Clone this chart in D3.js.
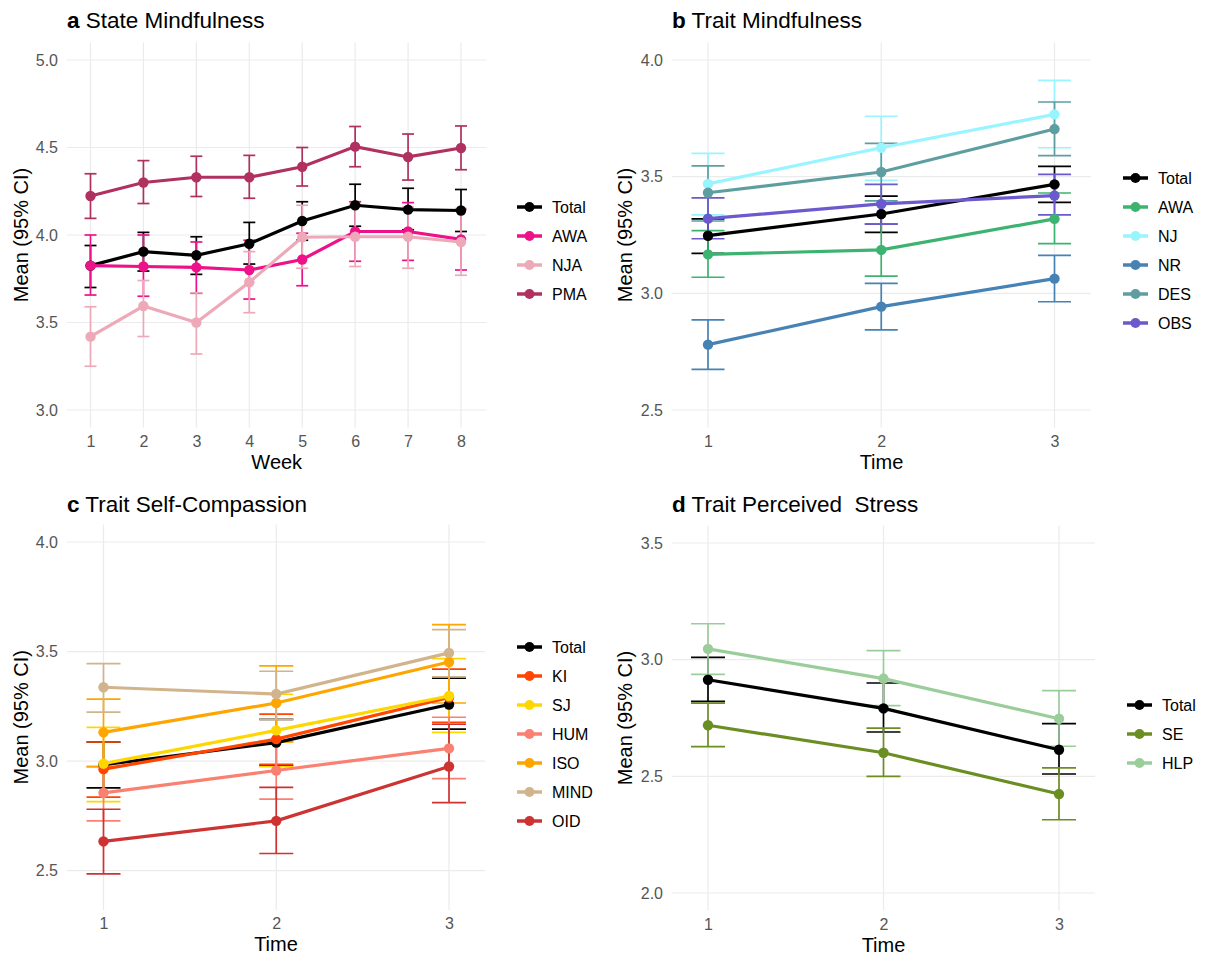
<!DOCTYPE html>
<html>
<head>
<meta charset="utf-8">
<script src="https://cdn.jsdelivr.net/npm/d3@7"></script>
<style>
	body { margin: 0; background: #fff; }
	svg { font-family: "Liberation Sans", Arial, sans-serif; }
</style>
</head>
<body>
<div id="chart"></div>
<script>
// ---- data ----
var weeks = [1, 2, 3, 4, 5, 6, 7, 8];
var times = [1, 2, 3];

var stateGroups = ["Total", "AWA", "NJA", "PMA"];
var stateColors = ["#000000", "#EE1289", "#EEA9B8", "#B03060"];
var stateMean = [
	[3.825, 3.905, 3.884, 3.95, 4.08, 4.17, 4.145, 4.14],
	[3.825, 3.82, 3.815, 3.8, 3.86, 4.02, 4.02, 3.975],
	[3.419, 3.594, 3.5, 3.73, 3.987, 3.99, 3.99, 3.96],
	[4.223, 4.3, 4.33, 4.33, 4.39, 4.505, 4.446, 4.497],
];
var stateLower = [
	[3.7, 3.794, 3.775, 3.834, 3.97, 4.05, 4.03, 4.02],
	[3.657, 3.65, 3.667, 3.634, 3.71, 3.85, 3.855, 3.8],
	[3.25, 3.42, 3.32, 3.556, 3.81, 3.82, 3.81, 3.77],
	[4.095, 4.18, 4.22, 4.21, 4.28, 4.39, 4.314, 4.373],
];
var stateUpper = [
	[3.94, 4.015, 3.99, 4.072, 4.19, 4.29, 4.267, 4.26],
	[4.0, 4.0, 3.96, 3.97, 4.01, 4.19, 4.185, 4.15],
	[3.59, 3.74, 3.67, 3.905, 4.17, 4.175, 4.16, 4.15],
	[4.35, 4.425, 4.45, 4.455, 4.5, 4.62, 4.577, 4.623],
];

var traitGroups = ["Total", "AWA", "NJ", "NR", "DES", "OBS"];
var traitColors = ["#000000", "#3CB371", "#98F5FF", "#4682B4", "#5F9EA0", "#6A5ACD"];
var traitMean = [
	[3.247, 3.34, 3.467],
	[3.167, 3.186, 3.319],
	[3.469, 3.624, 3.767],
	[2.78, 2.943, 3.063],
	[3.431, 3.52, 3.704],
	[3.32, 3.383, 3.419],
];
var traitLower = [
	[3.171, 3.261, 3.39],
	[3.069, 3.074, 3.213],
	[3.336, 3.484, 3.624],
	[2.674, 2.843, 2.964],
	[3.31, 3.396, 3.59],
	[3.234, 3.297, 3.336],
];
var traitUpper = [
	[3.319, 3.417, 3.544],
	[3.269, 3.298, 3.43],
	[3.6, 3.759, 3.913],
	[2.886, 3.043, 3.163],
	[3.546, 3.643, 3.82],
	[3.409, 3.467, 3.51],
];

var compGroups = ["Total", "KI", "SJ", "HUM", "ISO", "MIND", "OID"];
var compColors = ["#000000", "#FF4500", "#FFD700", "#FA8072", "#FFA500", "#D2B48C", "#CD3333"];
var compMean = [
	[2.983, 3.084, 3.258],
	[2.963, 3.1, 3.29],
	[2.988, 3.14, 3.297],
	[2.855, 2.957, 3.058],
	[3.131, 3.265, 3.452],
	[3.337, 3.306, 3.494],
	[2.633, 2.727, 2.975],
];
var compLower = [
	[2.878, 2.98, 3.146],
	[2.835, 2.985, 3.177],
	[2.815, 2.975, 3.131],
	[2.727, 2.826, 2.92],
	[2.975, 3.087, 3.265],
	[3.223, 3.19, 3.385],
	[2.485, 2.578, 2.81],
];
var compUpper = [
	[3.087, 3.19, 3.378],
	[3.087, 3.214, 3.42],
	[3.154, 3.305, 3.468],
	[2.975, 3.09, 3.2],
	[3.283, 3.435, 3.623],
	[3.445, 3.41, 3.6],
	[2.78, 2.88, 3.168],
];

var stressGroups = ["Total", "SE", "HLP"];
var stressColors = ["#000000", "#6B8E23", "#9BCD9B"];
var stressMean = [
	[2.914, 2.791, 2.614],
	[2.719, 2.601, 2.424],
	[3.046, 2.919, 2.747],
];
var stressLower = [
	[2.821, 2.69, 2.51],
	[2.627, 2.5, 2.314],
	[2.937, 2.803, 2.629],
];
var stressUpper = [
	[3.01, 2.9, 2.726],
	[2.814, 2.707, 2.536],
	[3.154, 3.039, 2.867],
];

var svg = d3
	.select("#chart")
	.append("svg")
	.attr("width", 1207)
	.attr("height", 957);

function drawPanel(p) {
	var x = d3.scaleLinear().domain(p.xDomain).range(p.xRange);
	var y = d3.scaleLinear().domain(p.yDomain).range(p.yRange);
	var g = svg.append("g");

	// grid
	g.selectAll(".hgrid")
		.data(p.yTicks)
		.enter()
		.append("line")
		.attr("x1", p.left)
		.attr("x2", p.right)
		.attr("y1", (d) => y(d))
		.attr("y2", (d) => y(d))
		.style("stroke", "#EBEBEB")
		.style("stroke-width", 1.2);
	g.selectAll(".vgrid")
		.data(p.xValues)
		.enter()
		.append("line")
		.attr("x1", (d) => x(d))
		.attr("x2", (d) => x(d))
		.attr("y1", y.range()[1])
		.attr("y2", y.range()[0])
		.style("stroke", "#EBEBEB")
		.style("stroke-width", 1.2);

	// y axis
	var yAxis = d3.axisLeft(y).tickValues(p.yTicks).tickSize(0).tickPadding(0).tickFormat(d3.format(".1f"));
	var ya = g.append("g")
		.attr("transform", "translate(" + (p.left - 9) + ",0)")
		.call(yAxis);
	ya.select(".domain").remove();
	ya.selectAll("text").style("font-size", "16px").style("fill", "#555555");

	// x axis
	var xAxis = d3.axisBottom(x).tickValues(p.xValues).tickSize(0).tickPadding(0).tickFormat(d3.format("d"));
	var xa = g.append("g")
		.attr("transform", "translate(0," + (y.range()[0] + 8) + ")")
		.call(xAxis);
	xa.select(".domain").remove();
	xa.selectAll("text").style("font-size", "16px").style("fill", "#555555");

	// axis titles
	g.append("text")
		.attr("x", (p.left + p.right) / 2)
		.attr("y", y.range()[0] + 41)
		.style("text-anchor", "middle")
		.style("font-size", "20px")
		.text(p.xTitle);
	g.append("text")
		.attr("transform", "translate(" + p.yTitleX + "," + (y.range()[0] + y.range()[1]) / 2 + ") rotate(-90)")
		.attr("dy", "0.35em")
		.style("text-anchor", "middle")
		.style("font-size", "20px")
		.text("Mean (95% CI)");

	// panel title
	var t = g.append("text")
		.attr("x", p.left)
		.attr("y", p.titleY)
		.style("font-size", "22.5px");
	t.append("tspan").style("font-weight", "bold").text(p.tag);
	t.append("tspan").attr("xml:space", "preserve").text(" " + p.title);

	// error bars
	p.groups.forEach(function (name, i) {
		var rows = p.xValues.map((v, j) => ({ x: v, lo: p.lower[i][j], hi: p.upper[i][j] }));
		var eb = g.append("g").style("stroke", p.colors[i]).style("stroke-width", 1.7);
		eb.selectAll(".v").data(rows).enter().append("line")
			.attr("x1", (d) => x(d.x)).attr("x2", (d) => x(d.x))
			.attr("y1", (d) => y(d.lo)).attr("y2", (d) => y(d.hi));
		eb.selectAll(".lo").data(rows).enter().append("line")
			.attr("x1", (d) => x(d.x) - p.cap).attr("x2", (d) => x(d.x) + p.cap)
			.attr("y1", (d) => y(d.lo)).attr("y2", (d) => y(d.lo));
		eb.selectAll(".hi").data(rows).enter().append("line")
			.attr("x1", (d) => x(d.x) - p.cap).attr("x2", (d) => x(d.x) + p.cap)
			.attr("y1", (d) => y(d.hi)).attr("y2", (d) => y(d.hi));
	});

	// lines and points
	var line = d3.line().x((d) => x(d.x)).y((d) => y(d.m));
	p.groups.forEach(function (name, i) {
		var rows = p.xValues.map((v, j) => ({ x: v, m: p.mean[i][j] }));
		g.append("path")
			.datum(rows)
			.attr("d", line)
			.style("fill", "none")
			.style("stroke", p.colors[i])
			.style("stroke-width", 3.2);
		g.selectAll(".pt" + i)
			.data(rows)
			.enter()
			.append("circle")
			.attr("cx", (d) => x(d.x))
			.attr("cy", (d) => y(d.m))
			.attr("r", 5.2)
			.style("fill", p.colors[i]);
	});

	// legend
	p.groups.forEach(function (name, i) {
		var ly = p.legendY + i * 29;
		g.append("line")
			.attr("x1", p.legendX).attr("x2", p.legendX + 25)
			.attr("y1", ly).attr("y2", ly)
			.style("stroke", p.colors[i]).style("stroke-width", 3.5);
		g.append("circle")
			.attr("cx", p.legendX + 12.5).attr("cy", ly).attr("r", 5)
			.style("fill", p.colors[i]);
		g.append("text")
			.attr("x", p.legendX + 35)
			.attr("y", ly)
			.attr("dy", "0.35em")
			.style("font-size", "16px")
			.text(name);
	});
}

drawPanel({
	tag: "a", title: "State Mindfulness", titleY: 28,
	groups: stateGroups, colors: stateColors,
	mean: stateMean, lower: stateLower, upper: stateUpper,
	xValues: weeks, xDomain: [1, 8], xRange: [90.5, 461],
	yDomain: [2.9, 5.1], yRange: [427.5, 42.5], yTicks: [3, 3.5, 4, 4.5, 5],
	left: 67, right: 486.5, cap: 6, xTitle: "Week", yTitleX: 21,
	legendX: 517, legendY: 207,
});

drawPanel({
	tag: "b", title: "Trait Mindfulness", titleY: 28,
	groups: traitGroups, colors: traitColors,
	mean: traitMean, lower: traitLower, upper: traitUpper,
	xValues: times, xDomain: [1, 3], xRange: [708, 1054.5],
	yDomain: [2.425, 4.075], yRange: [427.5, 42.5], yTicks: [2.5, 3, 3.5, 4],
	left: 672, right: 1091, cap: 16.5, xTitle: "Time", yTitleX: 625,
	legendX: 1123, legendY: 178,
});

drawPanel({
	tag: "c", title: "Trait Self-Compassion", titleY: 512,
	groups: compGroups, colors: compColors,
	mean: compMean, lower: compLower, upper: compUpper,
	xValues: times, xDomain: [1, 3], xRange: [103.5, 449],
	yDomain: [2.32, 4.08], yRange: [910, 524.5], yTicks: [2.5, 3, 3.5, 4],
	left: 67, right: 485, cap: 17, xTitle: "Time", yTitleX: 21,
	legendX: 517, legendY: 647,
});

drawPanel({
	tag: "d", title: "Trait Perceived  Stress", titleY: 512,
	groups: stressGroups, colors: stressColors,
	mean: stressMean, lower: stressLower, upper: stressUpper,
	xValues: times, xDomain: [1, 3], xRange: [708, 1059],
	yDomain: [1.925, 3.575], yRange: [910.5, 525.5], yTicks: [2, 2.5, 3, 3.5],
	left: 672, right: 1095, cap: 17, xTitle: "Time", yTitleX: 625,
	legendX: 1127, legendY: 705,
});
</script>
</body>
</html>
